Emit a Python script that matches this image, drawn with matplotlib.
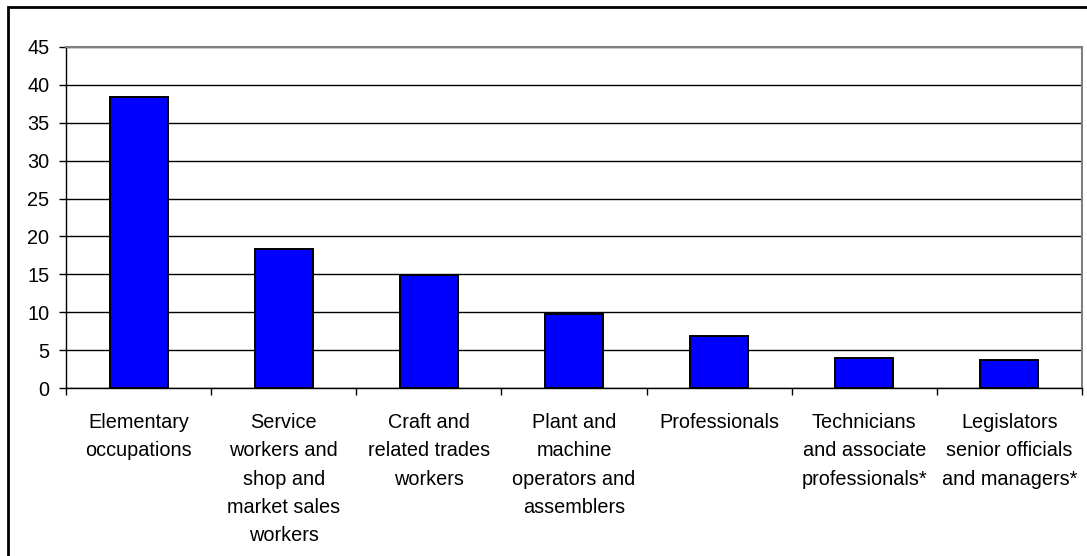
import matplotlib
matplotlib.use("Agg")
import matplotlib.pyplot as plt
from matplotlib.patches import Rectangle
import numpy as np

categories = [
    "Elementary\noccupations",
    "Service\nworkers and\nshop and\nmarket sales\nworkers",
    "Craft and\nrelated trades\nworkers",
    "Plant and\nmachine\noperators and\nassemblers",
    "Professionals",
    "Technicians\nand associate\nprofessionals*",
    "Legislators\nsenior officials\nand managers*",
]
values = [38.4, 18.3, 14.9, 9.7, 6.8, 4.0, 3.7]
y_ticks = [0, 5, 10, 15, 20, 25, 30, 35, 40, 45]

plt.rcParams["font.family"] = ["Liberation Sans", "DejaVu Sans"]
FS = 14.3

W, H = 1087, 556
fig = plt.figure(figsize=(W / 100, H / 100), dpi=100)
ax = fig.add_axes([66 / W, 1 - 388 / H, (1082 - 66) / W, (388 - 47) / H])

x = np.arange(len(categories))
ax.bar(x, values, width=0.4, color="#0000FF", edgecolor="black", linewidth=1.4, zorder=3)

ax.set_xlim(-0.5, len(categories) - 0.5)
ax.set_ylim(0, 45)
ax.set_yticks(y_ticks)
ax.set_yticklabels([str(t) for t in y_ticks], fontsize=FS)
ax.yaxis.grid(True, color="black", linewidth=1.0, zorder=0)
ax.set_axisbelow(True)

# category labels centred under each bar, tick marks at category boundaries
ax.set_xticks(x)
ax.set_xticklabels(categories, fontsize=FS, linespacing=1.62, va="top")
ax.tick_params(axis="x", which="major", length=0, pad=18)
ax.set_xticks(np.arange(-0.5, len(categories)), minor=True)
ax.tick_params(axis="x", which="minor", length=5, width=1, direction="out", color="black")
ax.tick_params(axis="y", length=5, width=1, direction="out", pad=7)

ax.spines["left"].set_color("black")
ax.spines["bottom"].set_color("black")
ax.spines["left"].set_linewidth(1)
ax.spines["bottom"].set_linewidth(1)
ax.spines["top"].set_color("#808080")
ax.spines["right"].set_color("#808080")
ax.spines["top"].set_linewidth(1.5)
ax.spines["right"].set_linewidth(1.5)

# chart-area frame (runs past the right and bottom edges)
fig.patches.append(Rectangle((8 / W, -0.1), 1.2, 1 - 7 / H + 0.1, transform=fig.transFigure,
                             fill=False, edgecolor="black", linewidth=2))

fig.savefig("out.png", dpi=100)
